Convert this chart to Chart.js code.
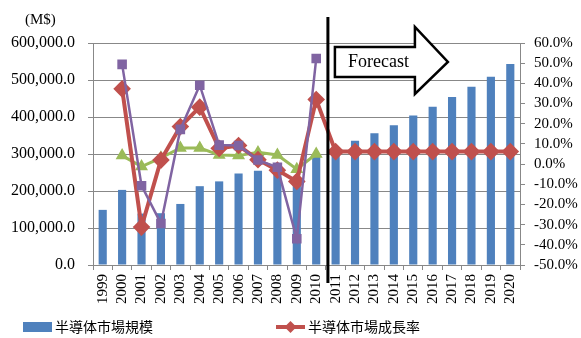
<!DOCTYPE html>
<html>
<head>
<meta charset="utf-8">
<script src="https://cdn.jsdelivr.net/npm/chart.js@4/dist/chart.umd.min.js"></script>
<style>
  html, body { margin: 0; padding: 0; background: #fff; }
  #wrap { width: 581px; height: 338px; }
</style>
</head>
<body>
<div id="wrap"><canvas id="chart"></canvas></div>
<script>
// categories
const years = ['1999','2000','2001','2002','2003','2004','2005','2006','2007','2008','2009','2010',
               '2011','2012','2013','2014','2015','2016','2017','2018','2019','2020'];

// 半導体市場規模 (M$)
const marketSize = [149000, 203000, 139000, 140000, 165000, 213000, 226000, 247000, 255000, 249000, 221000, 292000,
                    317000, 336000, 356000, 378000, 404000, 428000, 454000, 482000, 509000, 543000];

// 半導体市場成長率 (%)
const growthRate = [null, 37.3, -31.2, 2.0, 18.6, 28.2, 7.8, 9.2, 2.2, -3.0, -8.6, 32.0,
                    6.2, 6.2, 6.2, 6.2, 6.2, 6.2, 6.2, 6.2, 6.2, 6.2];

// other growth series (no legend entry)
const purpleRate = [null, 49.4, -10.7, -29.4, 17.2, 39.1, 9.4, 9.2, 2.0, -1.6, -37.0, 52.3,
                    null, null, null, null, null, null, null, null, null, null];
const greenRate = [null, 4.2, -1.2, 3.1, 8.0, 8.0, 4.5, 4.2, 5.8, 4.5, -2.5, 5.0,
                   null, null, null, null, null, null, null, null, null, null];

const leftTicks = [0, 100000, 200000, 300000, 400000, 500000, 600000];
const rightTicks = [-50, -40, -30, -20, -10, 0, 10, 20, 30, 40, 50, 60];

const serif = '"Liberation Serif", "Times New Roman", serif';
const cjk = '"Noto Sans CJK JP", sans-serif';

const decorations = {
  id: 'decorations',
  afterDraw(chart) {
    const ctx = chart.ctx;
    const x = chart.scales.x;
    const area = chart.chartArea;

    // (M$) label
    ctx.save();
    ctx.fillStyle = '#000';
    ctx.font = '15px ' + serif;
    ctx.textAlign = 'left';
    ctx.textBaseline = 'middle';
    ctx.fillText('(M$)', 25, 20);

    // forecast divider
    const lx = (x.getPixelForValue(11) + x.getPixelForValue(12)) / 2 + 2;
    ctx.strokeStyle = '#000';
    ctx.lineWidth = 3;
    ctx.beginPath();
    ctx.moveTo(lx, 17);
    ctx.lineTo(lx, 283);
    ctx.stroke();

    // forecast arrow
    const t = area.top;
    const x0 = lx + 7, x1 = lx + 87, x2 = lx + 120;
    ctx.beginPath();
    ctx.moveTo(x0, t + 4);
    ctx.lineTo(x1, t + 4);
    ctx.lineTo(x1, t - 16);
    ctx.lineTo(x2, t + 19);
    ctx.lineTo(x1, t + 51);
    ctx.lineTo(x1, t + 34);
    ctx.lineTo(x0, t + 34);
    ctx.closePath();
    ctx.fillStyle = '#fff';
    ctx.fill();
    ctx.lineWidth = 2.5;
    ctx.lineJoin = 'miter';
    ctx.stroke();
    ctx.fillStyle = '#000';
    ctx.font = '18px ' + serif;
    ctx.fillText('Forecast', x0 + 13, t + 19);

    // legend
    const ly = 327;
    ctx.fillStyle = chart.data.datasets[0].backgroundColor;
    ctx.fillRect(23, ly - 5, 29, 10);
    ctx.fillStyle = '#000';
    ctx.font = '14px ' + cjk;
    ctx.fillText(chart.data.datasets[0].label, 55, ly);

    const red = chart.data.datasets[1].borderColor;
    ctx.strokeStyle = red;
    ctx.lineWidth = 4;
    ctx.beginPath();
    ctx.moveTo(276, ly);
    ctx.lineTo(305, ly);
    ctx.stroke();
    ctx.fillStyle = red;
    ctx.beginPath();
    ctx.moveTo(290.5, ly - 6);
    ctx.lineTo(296.5, ly);
    ctx.lineTo(290.5, ly + 6);
    ctx.lineTo(284.5, ly);
    ctx.closePath();
    ctx.fill();
    ctx.fillStyle = '#000';
    ctx.fillText(chart.data.datasets[1].label, 308, ly);
    ctx.restore();
  }
};

new Chart(document.getElementById('chart'), {
  data: {
    labels: years,
    datasets: [
      {
        type: 'bar',
        label: '半導体市場規模',
        data: marketSize,
        backgroundColor: '#4F81BD',
        yAxisID: 'y',
        barPercentage: 0.42,
        categoryPercentage: 1,
        order: 4
      },
      {
        type: 'line',
        label: '半導体市場成長率',
        data: growthRate,
        borderColor: '#C0504D',
        backgroundColor: '#C0504D',
        borderWidth: 4,
        pointStyle: 'rectRot',
        pointRadius: 6,
        yAxisID: 'y1',
        order: 2
      },
      {
        type: 'line',
        label: 'purple',
        data: purpleRate,
        borderColor: '#8064A2',
        backgroundColor: '#8064A2',
        borderWidth: 2.5,
        pointStyle: 'rect',
        pointRadius: 5,
        yAxisID: 'y1',
        order: 1
      },
      {
        type: 'line',
        label: 'green',
        data: greenRate,
        borderColor: '#9BBB59',
        backgroundColor: '#9BBB59',
        borderWidth: 3,
        pointStyle: 'triangle',
        pointRadius: 4.5,
        yAxisID: 'y1',
        order: 3
      }
    ]
  },
  options: {
    responsive: true,
    maintainAspectRatio: false,
    animation: false,
    layout: { padding: { top: 43, bottom: 0, left: 0, right: 0 } },
    plugins: {
      legend: { display: false },
      tooltip: { enabled: false }
    },
    scales: {
      x: {
        offset: true,
        afterFit(axis) { axis.height = 73; },
        grid: { offset: true, drawOnChartArea: false, drawTicks: true, tickLength: 5, color: '#888' },
        border: { color: '#888' },
        ticks: {
          color: '#000',
          font: { family: serif, size: 15 },
          maxRotation: 90,
          minRotation: 90,
          autoSkip: false,
          padding: 4
        }
      },
      y: {
        position: 'left',
        min: 0,
        max: 600000,
        afterBuildTicks(axis) { axis.ticks = leftTicks.map(v => ({ value: v })); },
        afterFit(axis) { axis.width = 93; },
        grid: { color: '#888', tickLength: 5 },
        border: { color: '#888' },
        ticks: {
          color: '#000',
          font: { family: serif, size: 16 },
          padding: 13,
          autoSkip: false,
          callback: v => v.toLocaleString('en-US', { minimumFractionDigits: 1, maximumFractionDigits: 1 })
        }
      },
      y1: {
        position: 'right',
        min: -50,
        max: 60,
        afterBuildTicks(axis) { axis.ticks = rightTicks.map(v => ({ value: v })); },
        afterFit(axis) { axis.width = 61; },
        grid: { drawOnChartArea: false, color: '#888', tickLength: 5 },
        border: { color: '#888' },
        ticks: {
          color: '#000',
          font: { family: serif, size: 15 },
          padding: 9,
          autoSkip: false,
          callback: v => v.toFixed(1) + '%'
        }
      }
    }
  },
  plugins: [decorations]
});
</script>
</body>
</html>
